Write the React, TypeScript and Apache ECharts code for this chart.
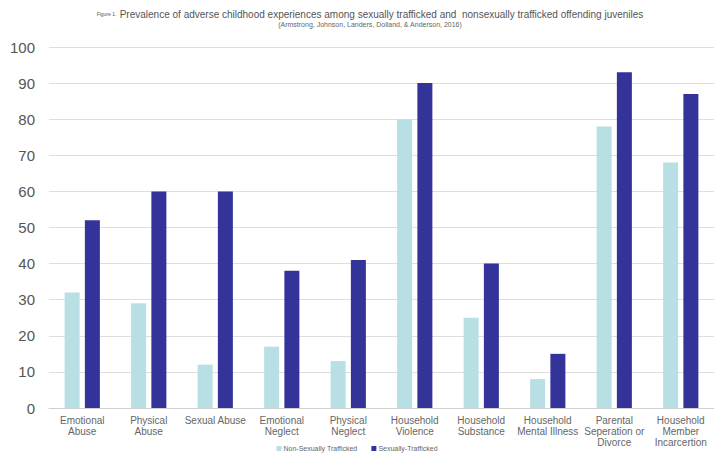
import React, { useEffect, useRef } from "react";
import * as echarts from "echarts";

const categories = [
  "Emotional\nAbuse",
  "Physical\nAbuse",
  "Sexual Abuse",
  "Emotional\nNeglect",
  "Physical\nNeglect",
  "Household\nViolence",
  "Household\nSubstance",
  "Household\nMental Illness",
  "Parental\nSeperation or\nDivorce",
  "Household\nMember\nIncarcertion",
];
const nonSexuallyTrafficked = [32, 29, 12, 17, 13, 80, 25, 8, 78, 68];
const sexuallyTrafficked = [52, 60, 60, 38, 41, 90, 40, 15, 93, 87];
const yTicks = { min: 0, max: 100, interval: 10 };
const titleText = "Prevalence of adverse childhood experiences among sexually trafficked and  nonsexually trafficked offending juveniles";
const subtitleText = "(Armstrong, Johnson, Landers, Dolland, & Anderson, 2016)";

export default function App() {
  const ref = useRef<HTMLDivElement>(null);
  useEffect(() => {
    if (!ref.current) return;
    const chart = echarts.init(ref.current, null, { renderer: "svg" });
    const font = "'Liberation Sans', Arial, sans-serif";
    chart.setOption({
      animation: false,
      textStyle: { fontFamily: font },
      graphic: [
        {
          type: "text",
          x: 370,
          y: 8,
          style: {
            text: "{a|Figure 1.} {b|" + titleText + "}",
            align: "center",
            verticalAlign: "top",
            rich: {
              a: { fontSize: 5, fill: "#555", fontFamily: font, fontWeight: "normal" },
              b: { fontSize: 10, fill: "#555", fontFamily: font, fontWeight: "normal" },
            },
          },
        },
        {
          type: "text",
          x: 370,
          y: 21,
          style: {
            text: subtitleText,
            align: "center",
            verticalAlign: "top",
            fontSize: 7,
            fill: "#666",
            fontFamily: font,
          },
        },
      ],
      legend: {
        bottom: 4,
        left: "center",
        itemWidth: 5,
        itemHeight: 5,
        itemGap: 14,
        icon: "rect",
        textStyle: { fontSize: 7, color: "#666", fontFamily: font, padding: [0, 0, 0, -3] },
        data: ["Non-Sexually Trafficked", "Sexually-Trafficked"],
      },
      grid: { left: 49, right: -8, top: 47, bottom: 53, containLabel: false },
      xAxis: {
        type: "category",
        data: categories,
        axisLine: { lineStyle: { color: "#d0d0d0" } },
        axisTick: { show: false },
        axisLabel: {
          interval: 0,
          fontSize: 10,
          color: "#666",
          lineHeight: 11,
          margin: 7,
          fontFamily: font,
        },
      },
      yAxis: {
        type: "value",
        min: yTicks.min,
        max: yTicks.max,
        interval: yTicks.interval,
        axisLine: { show: false },
        axisTick: { show: false },
        splitLine: { lineStyle: { color: "#dedede" } },
        axisLabel: { fontSize: 15, color: "#555", margin: 14, fontFamily: font },
      },
      series: [
        {
          name: "Non-Sexually Trafficked",
          type: "bar",
          data: nonSexuallyTrafficked,
          barWidth: 15,
          barGap: "35%",
          itemStyle: { color: "#b8dfe3" },
        },
        {
          name: "Sexually-Trafficked",
          type: "bar",
          data: sexuallyTrafficked,
          barWidth: 15,
          itemStyle: { color: "#333399" },
        },
      ],
    });
    return () => chart.dispose();
  }, []);
  return <div ref={ref} style={{ width: 714, height: 461, position: "absolute", left: 0, top: 0, background: "#fff" }} />;
}
